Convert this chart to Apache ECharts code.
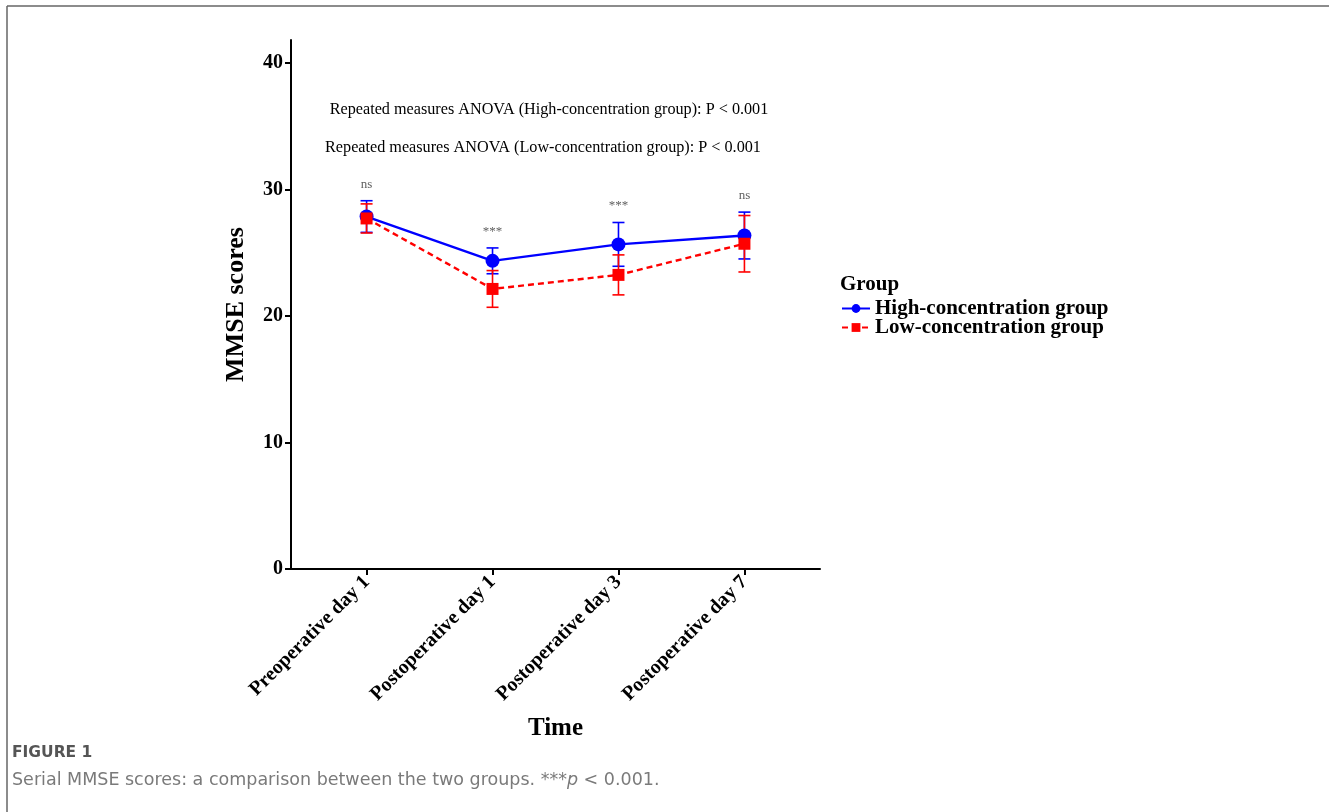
<!DOCTYPE html>
<html>
<head>
<meta charset="utf-8">
<script src="https://cdn.jsdelivr.net/npm/echarts@6/dist/echarts.min.js"></script>
<style>
  html, body { margin: 0; padding: 0; background: #fff; }
  #chart { width: 1329px; height: 812px; }
</style>
</head>
<body>
<div id="chart"></div>
<script>
// Time points and group means with error (±) for serial MMSE scores
const categories = ['Preoperative day 1', 'Postoperative day 1', 'Postoperative day 3', 'Postoperative day 7'];
const highMean = [27.85, 24.35, 25.65, 26.35];
const highErr  = [1.25, 1.02, 1.73, 1.85];
const lowMean  = [27.7, 22.13, 23.24, 25.7];
const lowErr   = [1.15, 1.45, 1.58, 2.23];
const sigLabels = ['ns', '***', '***', 'ns'];
const yTicks = [0, 10, 20, 30, 40];
const groupNames = ['High-concentration group', 'Low-concentration group'];

const SERIF = '"Liberation Serif", "Times New Roman", serif';
const SANS = '"DejaVu Sans", "Open Sans", sans-serif';
const BLUE = '#0000ff';
const RED = '#ff0000';
const xPos = categories.map((_, i) => i + 1);

function points(means) { return means.map((v, i) => [xPos[i], v]); }
function bars(means, errs) { return means.map((v, i) => [xPos[i], v - errs[i], v + errs[i]]); }

function errorBarSeries(means, errs, color) {
  return {
    type: 'custom',
    z: 2,
    silent: true,
    data: bars(means, errs),
    encode: { x: 0, y: [1, 2] },
    renderItem: function (params, api) {
      const x = api.value(0);
      const lo = api.coord([x, api.value(1)]);
      const hi = api.coord([x, api.value(2)]);
      const cap = 6;
      const style = { stroke: color, lineWidth: 1.6, fill: null };
      return {
        type: 'group',
        children: [
          { type: 'line', shape: { x1: lo[0], y1: lo[1], x2: hi[0], y2: hi[1] }, style: style },
          { type: 'line', shape: { x1: lo[0] - cap, y1: lo[1], x2: lo[0] + cap, y2: lo[1] }, style: style },
          { type: 'line', shape: { x1: hi[0] - cap, y1: hi[1], x2: hi[0] + cap, y2: hi[1] }, style: style }
        ]
      };
    }
  };
}

// Significance marks sit just above the taller error bar at each time point
const sigTop = xPos.map((x, i) => [x, Math.max(highMean[i] + highErr[i], lowMean[i] + lowErr[i])]);

const chart = echarts.init(document.getElementById('chart'));
chart.setOption({
  animation: false,
  backgroundColor: '#ffffff',
  grid: { left: 291, right: 509, top: 40, bottom: 243, containLabel: false },
  xAxis: {
    type: 'value',
    min: 0.4,
    max: 4.6,
    name: 'Time',
    nameLocation: 'middle',
    nameGap: 147,
    nameTextStyle: { fontFamily: SERIF, fontWeight: 'bold', fontSize: 25, color: '#000' },
    axisLine: { show: true, onZero: false, lineStyle: { color: '#000', width: 2 } },
    axisTick: { show: true, length: 6, lineStyle: { color: '#000', width: 2 }, customValues: xPos },
    axisLabel: {
      customValues: xPos,
      rotate: 45,
      margin: 10,
      fontFamily: SERIF,
      fontWeight: 'bold',
      fontSize: 20,
      color: '#000',
      formatter: v => categories[Math.round(v) - 1] || ''
    },
    splitLine: { show: false }
  },
  yAxis: {
    type: 'value',
    min: 0,
    max: 41.8,
    name: 'MMSE scores',
    nameLocation: 'middle',
    nameGap: 42,
    nameRotate: 90,
    nameTextStyle: { fontFamily: SERIF, fontWeight: 'bold', fontSize: 26, color: '#000' },
    axisLine: { show: true, lineStyle: { color: '#000', width: 2 } },
    axisTick: { show: true, length: 6, lineStyle: { color: '#000', width: 2 }, customValues: yTicks },
    axisLabel: {
      customValues: yTicks,
      margin: 8,
      fontFamily: SERIF,
      fontWeight: 'bold',
      fontSize: 20,
      color: '#000'
    },
    splitLine: { show: false }
  },
  legend: {
    data: groupNames,
    orient: 'vertical',
    left: 836,
    top: 293,
    itemWidth: 28,
    itemHeight: 11,
    itemGap: -2,
    textStyle: { fontFamily: SERIF, fontWeight: 'bold', fontSize: 21, lineHeight: 16, color: '#000' }
  },
  series: [
    errorBarSeries(highMean, highErr, BLUE),
    errorBarSeries(lowMean, lowErr, RED),
    {
      name: groupNames[0],
      type: 'line',
      z: 3,
      data: points(highMean),
      symbol: 'circle',
      symbolSize: 14,
      itemStyle: { color: BLUE },
      lineStyle: { color: BLUE, width: 2.4, type: 'solid' }
    },
    {
      name: groupNames[1],
      type: 'line',
      z: 4,
      data: points(lowMean),
      symbol: 'rect',
      symbolSize: 12,
      itemStyle: { color: RED },
      lineStyle: { color: RED, width: 2.4, type: [6, 4] }
    },
    {
      type: 'scatter',
      silent: true,
      symbolSize: 0,
      data: sigTop,
      label: {
        show: true,
        position: 'top',
        distance: 10,
        fontFamily: SERIF,
        fontSize: 13,
        color: '#333',
        formatter: p => sigLabels[p.dataIndex]
      }
    }
  ],
  graphic: [
    // page frame
    { type: 'line', shape: { x1: 7, y1: 6, x2: 1329, y2: 6 }, style: { stroke: '#666', lineWidth: 1.5 } },
    { type: 'line', shape: { x1: 7, y1: 6, x2: 7, y2: 812 }, style: { stroke: '#666', lineWidth: 1.5 } },
    // ANOVA annotations
    { type: 'text', x: 549, y: 110, style: { text: 'Repeated measures ANOVA (High-concentration group): P < 0.001', fontFamily: SERIF, fontSize: 16.2, fill: '#000', align: 'center', verticalAlign: 'middle' } },
    { type: 'text', x: 543, y: 148, style: { text: 'Repeated measures ANOVA (Low-concentration group): P < 0.001', fontFamily: SERIF, fontSize: 16.2, fill: '#000', align: 'center', verticalAlign: 'middle' } },
    // legend heading
    { type: 'text', x: 840, y: 285, style: { text: 'Group', fontFamily: SERIF, fontWeight: 'bold', fontSize: 21, fill: '#000', verticalAlign: 'middle' } },
    // caption
    { type: 'text', x: 12, y: 753, style: { text: 'FIGURE 1', fontFamily: SANS, fontWeight: 'bold', fontSize: 15.5, fill: '#555', verticalAlign: 'middle' } },
    { type: 'text', x: 12, y: 780, style: {
        text: '{a|Serial MMSE scores: a comparison between the two groups. ***}{i|p}{a| < 0.001.}',
        verticalAlign: 'middle',
        rich: {
          a: { fontFamily: SANS, fontSize: 17.5, fill: '#7a7a7a' },
          i: { fontFamily: SANS, fontStyle: 'italic', fontSize: 17.5, fill: '#7a7a7a' }
        }
      } }
  ]
});
</script>
</body>
</html>
